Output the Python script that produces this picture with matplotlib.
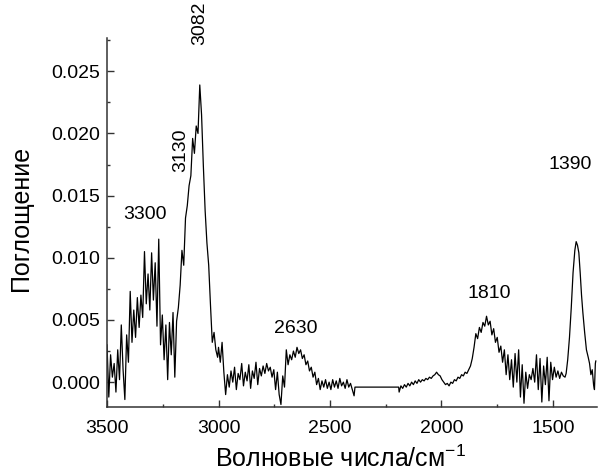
import numpy as np
import matplotlib
matplotlib.use("Agg")
import matplotlib.pyplot as plt
from matplotlib.ticker import MultipleLocator, FormatStrFormatter

plt.rcParams["font.family"] = ["Liberation Sans", "DejaVu Sans"]
plt.rcParams["mathtext.fontset"] = "custom"
plt.rcParams["mathtext.rm"] = "Liberation Sans"

# spectrum, absorbance in thousandths
# segment A: 3500 -> 3004 cm-1, step 8
start_a, step_a = 3500, 8
abs_a = [3.0, -1.2, 2.2, 0.4, 1.5, -0.8, 2.6, 0.2, 4.6, 1.0,
         -1.4, 3.8, 1.6, 7.3, 3.2, 5.8, 3.6, 6.8, 4.4, 7.0,
         5.2, 10.5, 6.3, 8.7, 5.8, 10.4, 6.6, 9.6, 4.5, 11.5,
         3.0, 5.4, 1.8, 4.6, 0.2, 4.8, 2.2, 5.6, 0.4, 4.9,
         6.0, 7.8, 10.6, 9.4, 13.2, 14.2, 15.8, 16.6, 19.6, 18.4,
         20.6, 20.0, 23.9, 21.5, 17.4, 13.8, 11.2, 9.4, 6.2, 3.2,
         4.0, 2.6, 2.0]

# segment B: 3000 -> 2392 cm-1, step 8
start_b, step_b = 3000, 8
abs_b = [2.8, 1.6, 3.2, 0.8, -1.0, 0.6, -0.4, 0.9, 0.0, 1.2,
         -0.6, 0.7, 0.2, 1.5, -0.3, 0.8, 0.1, 1.4, -0.5, 0.9,
         0.3, 1.6, -0.2, 1.1, 0.5, 1.3, 0.7, 1.5, 0.9, 1.2,
         0.4, 1.0, -0.6, 0.8, -1.0, -1.8, 0.5, -0.4, 2.6, 1.4,
         2.2, 1.8, 2.5, 2.0, 2.8, 2.3, 2.6, 1.9, 2.2, 1.4,
         1.7, 0.9, 1.2, 0.4, 0.8, -0.2, 0.3, -0.6, 0.1, -0.4,
         0.2, -0.5, 0.0, -0.6, 0.2, -0.4, 0.1, -0.5, 0.3, -0.3,
         0.0, -0.5, 0.2, -0.4, -0.1, -0.6, -1.1]

# straight piece where no data was recorded
wn_gap = [2388, 2192]
abs_gap = [-0.4, -0.4]

# segment C: 2190 -> 1446 cm-1, step 8
start_c, step_c = 2190, 8
abs_c = [-0.8, -0.3, -0.5, -0.2, -0.4, -0.1, -0.3, 0.0, -0.2, 0.1,
         -0.1, 0.2, 0.0, 0.2, 0.1, 0.3, 0.2, 0.4, 0.3, 0.5,
         0.6, 0.8, 0.6, 0.5, 0.2, 0.0, -0.2, -0.1, -0.3, 0.0,
         -0.1, 0.2, 0.1, 0.4, 0.3, 0.6, 0.5, 0.8, 0.7, 1.0,
         1.3, 1.9, 2.8, 3.9, 3.5, 4.4, 4.0, 4.8, 4.5, 5.3,
         4.6, 4.9, 3.8, 4.3, 3.2, 3.6, 2.4, 2.9, 1.6, 2.6,
         0.6, 2.2, 0.2, 1.8, -0.4, 2.3, 0.0, 2.6, -1.2, 1.4,
         -1.7, 0.8, -0.5, 0.6, 0.2, 1.1, 0.0, 2.2, -0.6, 1.9,
         -1.6, 1.3, -0.2, 2.0, -1.5, 1.6, 0.2, 1.2, 0.4, 0.9,
         0.3, 0.8, 0.5, 0.4]

# segment D: the 1390 band
wn_d = [1441, 1434, 1426, 1418, 1410, 1402, 1396, 1390, 1384, 1378,
        1372, 1366, 1358, 1350, 1342, 1336, 1330, 1324, 1318, 1314,
        1310, 1308]
abs_d = [0.7, 1.8, 3.6, 6.0, 8.8, 10.6, 11.3, 11.0, 10.4, 8.8,
         7.0, 5.6, 4.0, 2.6, 2.0, 1.5, 0.6, 1.0, -0.2, -0.6,
         1.5, 1.7]

peak_labels = ["3300", "3130", "3082", "2630", "1810", "1390"]
label_wn = [3330, 3170, 3085, 2654, 1786, 1424]
label_abs = [0.0135, 0.01865, 0.0289, 0.00434, 0.00711, 0.01752]
label_rot = [0, 90, 90, 0, 0, 0]


def seg(start, step, vals):
    return start - step * np.arange(len(vals))


wn = np.concatenate([seg(start_a, step_a, abs_a), seg(start_b, step_b, abs_b),
                     wn_gap, seg(start_c, step_c, abs_c), wn_d])
absorb = np.concatenate([abs_a, abs_b, abs_gap, abs_c, abs_d]) / 1000.0

fig = plt.figure(figsize=(6.06, 4.72), dpi=100)
ax = fig.add_axes([0.1766, 0.1377, 0.8084, 0.7824])

ax.plot(wn, absorb, color="black", linewidth=0.9)

ax.set_xlim(3500, 1303)
ax.set_ylim(-0.002, 0.0277)

ax.xaxis.set_major_locator(MultipleLocator(500))
ax.xaxis.set_minor_locator(MultipleLocator(250))
ax.yaxis.set_major_locator(MultipleLocator(0.005))
ax.yaxis.set_minor_locator(MultipleLocator(0.0025))
ax.yaxis.set_major_formatter(FormatStrFormatter("%.3f"))

ax.tick_params(which="both", direction="in", labelsize=14, color="#333333")
ax.tick_params(which="major", length=5, width=1)
ax.tick_params(which="minor", length=2.5, width=1)
ax.tick_params(axis="x", pad=9)
ax.tick_params(axis="y", pad=5)

for side in ["top", "right"]:
    ax.spines[side].set_visible(False)
for side in ["left", "bottom"]:
    ax.spines[side].set_linewidth(1.1)
    ax.spines[side].set_color("#333333")

for txt, x, y, rot in zip(peak_labels, label_wn, label_abs, label_rot):
    ax.text(x, y, txt, fontsize=14, rotation=rot, ha="center", va="center",
            clip_on=False)

ax.set_xlabel(r"Волновые числа/см$^{\mathregular{-1}}$", fontsize=18)
ax.xaxis.set_label_coords(0.476, -0.105)
ax.set_ylabel("Поглощение", fontsize=18, va="center")
ax.yaxis.set_label_coords(-0.175, 0.51)

fig.savefig("out.png", dpi=100)
